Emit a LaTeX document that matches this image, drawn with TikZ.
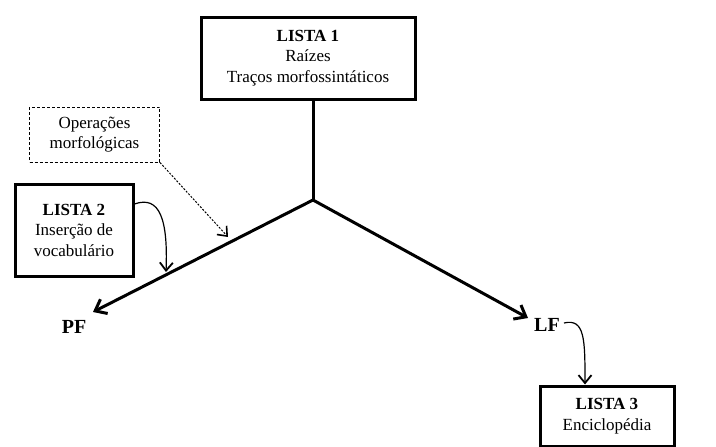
\documentclass[tikz,border=0pt]{standalone}
\usepackage{fontspec}
\setmainfont{Liberation Serif}
\usetikzlibrary{arrows.meta}
\begin{document}
\begin{tikzpicture}[x=1pt,y=-1pt,
  box/.style={draw,line width=3pt,align=center,inner sep=0pt,font=\fontsize{17}{20.5}\selectfont},
  dbox/.style={draw,dash pattern=on 3pt off 2pt,line width=1pt,align=center,inner sep=0pt,font=\fontsize{17}{20.5}\selectfont},
  thick line/.style={line width=3pt},
  big arrow/.style={line width=3pt,-{Straight Barb[length=10pt,width=16pt,line width=3pt]}},
  thin arrow/.style={line width=1.2pt,-{Straight Barb[length=8pt,width=13pt,line width=1.8pt]}},
  lbl/.style={font=\fontsize{20}{22}\selectfont\bfseries,inner sep=0pt}]
\useasboundingbox (0,0) rectangle (716,447);
\node[box,minimum width=214pt,minimum height=82pt] (l1) at (308,58) {\textbf{LISTA 1}\\Raízes\\Traços morfossintáticos};
\coordinate (j) at (313,200);
\draw[thick line] (l1.south -| j) -- (j);
\node[lbl] (pf) at (74,327) {PF};
\node[lbl] (lf) at (547,325) {LF};
\coordinate (pfend) at (93,312);
\coordinate (lfend) at (528,318);
\draw[big arrow] (j) -- (pfend);
\draw[big arrow] (j) -- (lfend);
\node[dbox,minimum width=130pt,minimum height=55pt] (op) at (94.5,134.5) {Operações\\morfológicas};
\coordinate (opend) at (228,237);
\draw[dash pattern=on 2pt off 1.5pt,line width=1pt,-{Straight Barb[length=8pt,width=13pt,line width=1.6pt]}] (op.south east) -- (opend);
\node[box,minimum width=118pt,minimum height=92pt] (l2) at (74,230) {\textbf{LISTA 2}\\Inserção de\\vocabulário};
\coordinate (l2end) at (166,272);
\draw[thin arrow] (l2.east |- 0,204) .. controls (160,195) and (168,220) .. (l2end);
\node[box,minimum width=134pt,minimum height=60pt] (l3) at (607,416) {\textbf{LISTA 3}\\Enciclopédia};
\draw[thin arrow] (lf.east) ++(4,-2) coordinate (lfs) .. controls (585,318) and (585,340) .. (l3.north -| 585,0);
\end{tikzpicture}
\end{document}
